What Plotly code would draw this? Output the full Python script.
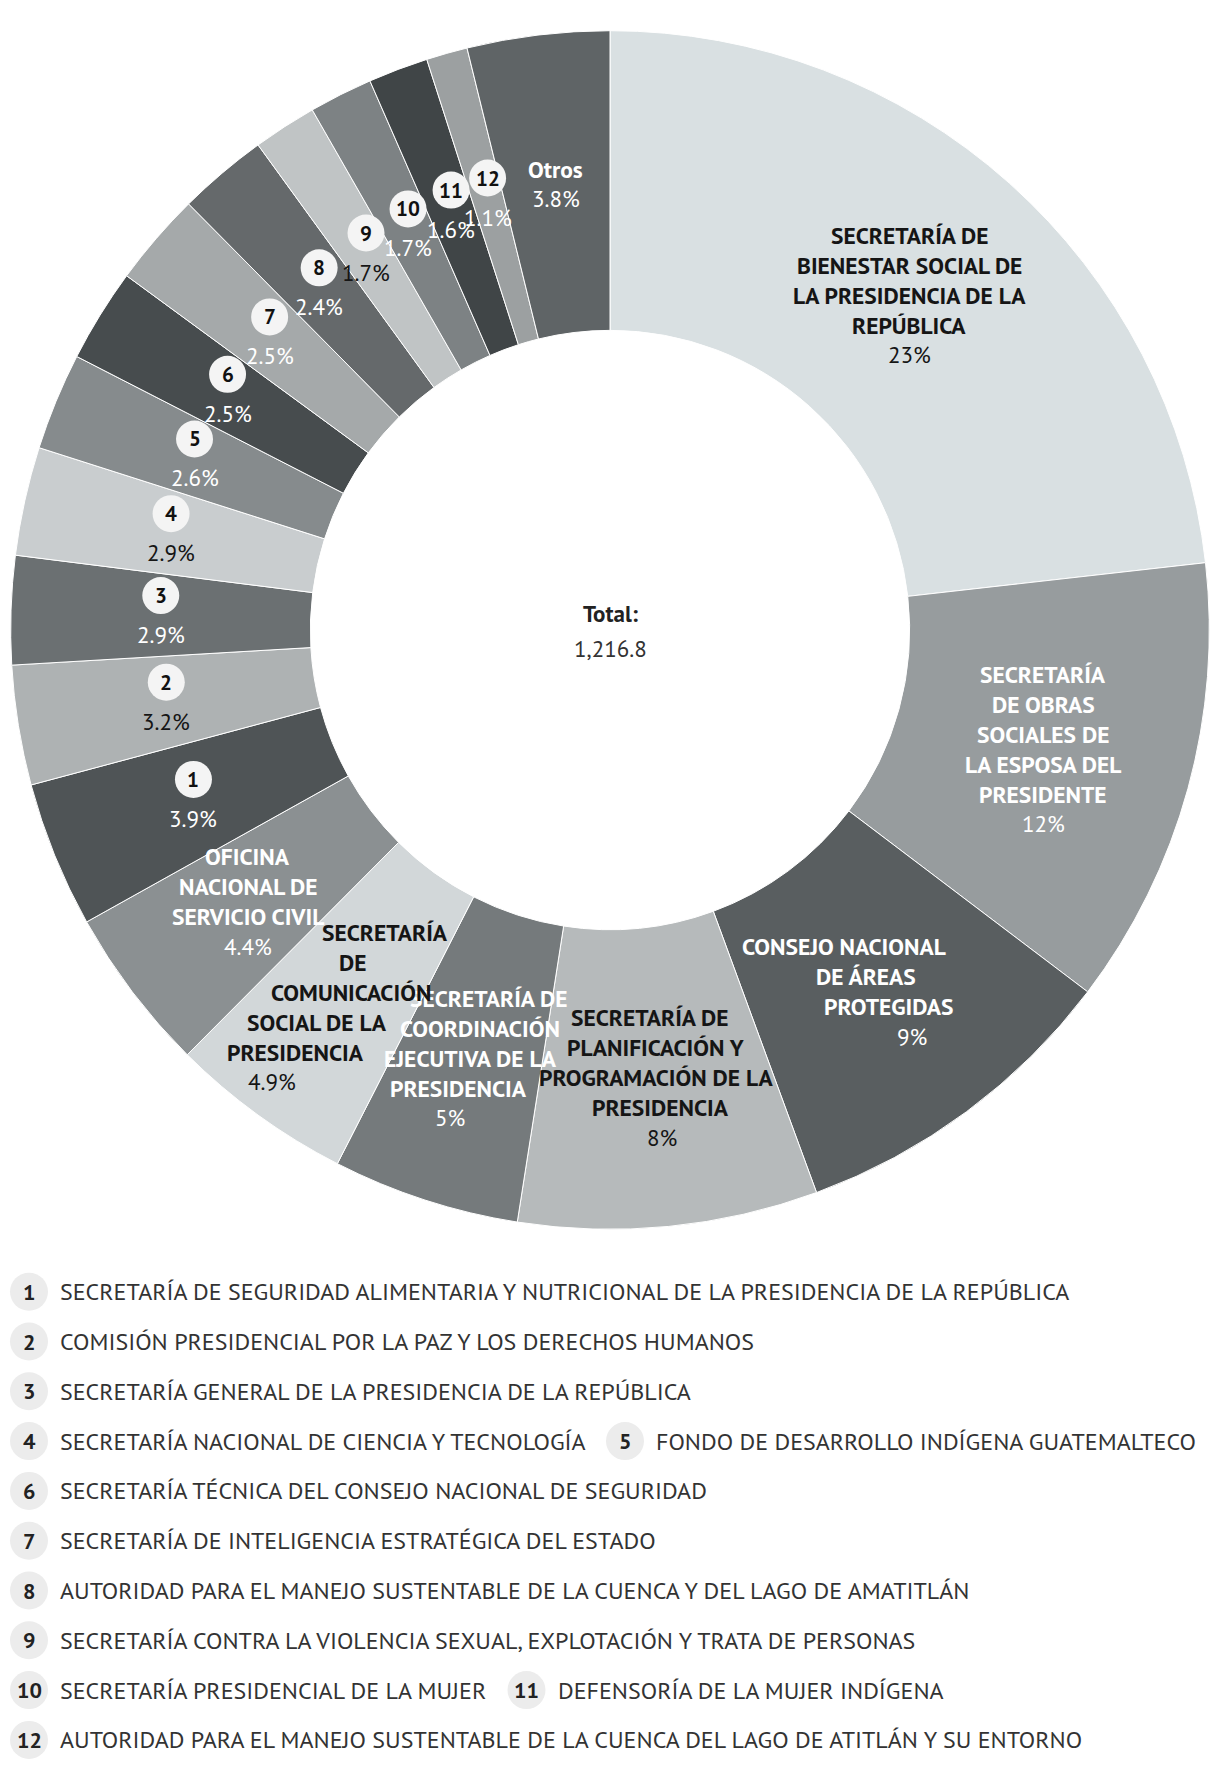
import math
import plotly.graph_objects as go

# ---------------- data ----------------
slice_names = [
    "SECRETARÍA DE BIENESTAR SOCIAL DE LA PRESIDENCIA DE LA REPÚBLICA",
    "SECRETARÍA DE OBRAS SOCIALES DE LA ESPOSA DEL PRESIDENTE",
    "CONSEJO NACIONAL DE ÁREAS PROTEGIDAS",
    "SECRETARÍA DE PLANIFICACIÓN Y PROGRAMACIÓN DE LA PRESIDENCIA",
    "SECRETARÍA DE COORDINACIÓN EJECUTIVA DE LA PRESIDENCIA",
    "SECRETARÍA DE COMUNICACIÓN SOCIAL DE LA PRESIDENCIA",
    "OFICINA NACIONAL DE SERVICIO CIVIL",
    "SECRETARÍA DE SEGURIDAD ALIMENTARIA Y NUTRICIONAL DE LA PRESIDENCIA DE LA REPÚBLICA",
    "COMISIÓN PRESIDENCIAL POR LA PAZ Y LOS DERECHOS HUMANOS",
    "SECRETARÍA GENERAL DE LA PRESIDENCIA DE LA REPÚBLICA",
    "SECRETARÍA NACIONAL DE CIENCIA Y TECNOLOGÍA",
    "FONDO DE DESARROLLO INDÍGENA GUATEMALTECO",
    "SECRETARÍA TÉCNICA DEL CONSEJO NACIONAL DE SEGURIDAD",
    "SECRETARÍA DE INTELIGENCIA ESTRATÉGICA DEL ESTADO",
    "AUTORIDAD PARA EL MANEJO SUSTENTABLE DE LA CUENCA Y DEL LAGO DE AMATITLÁN",
    "SECRETARÍA CONTRA LA VIOLENCIA SEXUAL, EXPLOTACIÓN Y TRATA DE PERSONAS",
    "SECRETARÍA PRESIDENCIAL DE LA MUJER",
    "DEFENSORÍA DE LA MUJER INDÍGENA",
    "AUTORIDAD PARA EL MANEJO SUSTENTABLE DE LA CUENCA DEL LAGO DE ATITLÁN Y SU ENTORNO",
    "Otros",
]
slice_pct = [23, 12, 9, 8, 5, 4.9, 4.4, 3.9, 3.2, 2.9, 2.9, 2.6, 2.5, 2.5, 2.4, 1.7, 1.7, 1.6, 1.1, 3.8]
pct_text = ["23%", "12%", "9%", "8%", "5%", "4.9%", "4.4%", "3.9%", "3.2%", "2.9%", "2.9%",
            "2.6%", "2.5%", "2.5%", "2.4%", "1.7%", "1.7%", "1.6%", "1.1%", "3.8%"]
slice_tags = ["", "", "", "", "", "", "", "1", "2", "3", "4", "5", "6", "7", "8", "9", "10", "11", "12", ""]
label_lines = {
    0: ["SECRETARÍA DE", "BIENESTAR SOCIAL DE", "LA PRESIDENCIA DE LA", "REPÚBLICA"],
    1: ["SECRETARÍA", "DE OBRAS", "SOCIALES DE", "LA ESPOSA DEL", "PRESIDENTE"],
    2: ["CONSEJO NACIONAL", "DE ÁREAS", "PROTEGIDAS"],
    3: ["SECRETARÍA DE", "PLANIFICACIÓN Y", "PROGRAMACIÓN DE LA", "PRESIDENCIA"],
    4: ["SECRETARÍA DE", "COORDINACIÓN", "EJECUTIVA DE LA", "PRESIDENCIA"],
    5: ["SECRETARÍA", "DE", "COMUNICACIÓN", "SOCIAL DE LA", "PRESIDENCIA"],
    6: ["OFICINA", "NACIONAL DE", "SERVICIO CIVIL"],
    19: ["Otros"],
}
total_title = "Total:"
total_value = "1,216.8"
legend_rows = [[7], [8], [9], [10, 11], [12], [13], [14], [15], [16, 17], [18]]

# ---------------- style ----------------
OFF = 8                      # page body margin of the browser
W, H = 1220 - OFF, 1770 - OFF
CX, CY, R = 610.0, 630.0, 599.3
HOLE = 0.5
LABEL_R = 0.75 * R
LINE_H = 30
FONT = "'PT Sans', 'Open Sans', sans-serif"
BOLD_SIZE = 23.5
PCT_SIZE = 23
NUM_SIZE = 21
LEG_SIZE = 24
TOTAL_SIZE = 23
DARK = "#151515"

slice_colors = ["#d9e0e2", "#979c9e", "#595e60", "#b6babb", "#757a7c", "#d2d7d9", "#8b9092",
                "#4f5456", "#aeb2b3", "#6b7072", "#c9cdcf", "#868b8d", "#474c4e", "#a5a9aa",
                "#65696b", "#c0c4c5", "#7d8284", "#404547", "#9ca0a1", "#5f6466"]
label_dark = [True, False, False, True, False, True, False, False, True, False, True,
              False, False, False, False, True, False, False, False, False]
# per-line horizontal offsets (px) of the label lines, as laid out in the original
line_dx = {
    2: [-33, -11, 12, 35],
    3: [-5, 1, 2, 6, 8],
    4: [17.5, 8.5, -0.5, -12.5, -21.5],
    5: [39, 6, 5, -29, -51, -74],
    6: [-4, -4, -4, -4],
}
line_dy = {5: 13}
legend_second_x = {11: 625, 17: 526.5}
LEG_Y0, LEG_DY = 1291.7, 49.8


def px(x):
    return (x - OFF) / W


def py(y):
    return 1 - (y - OFF) / H


fig = go.Figure()
fig.add_trace(go.Pie(
    values=slice_pct, labels=slice_names, sort=False, direction="clockwise", rotation=0,
    hole=HOLE, textinfo="none", hoverinfo="label+percent", showlegend=False,
    marker=dict(colors=slice_colors, line=dict(color="white", width=1)),
    domain=dict(x=[px(CX - R), px(CX + R)], y=[py(CY + R), py(CY - R)]),
))

annotations = []
shapes = []


def add_text(x, y, text, size, color, bold=False, xanchor="center"):
    annotations.append(dict(
        x=px(x), y=py(y), xref="paper", yref="paper", text=text, showarrow=False,
        xanchor=xanchor, yanchor="middle",
        font=dict(family=FONT, size=size, color=color, weight="bold" if bold else "normal"),
    ))


def add_circle(x, y, r, fill):
    shapes.append(dict(type="circle", xref="paper", yref="paper",
                       x0=px(x - r), x1=px(x + r), y0=py(y + r), y1=py(y - r),
                       fillcolor=fill, line=dict(width=0), layer="above"))


total = sum(slice_pct)
cum = 0.0
for i, v in enumerate(slice_pct):
    mid = (cum + v / 2) / total * 360.0
    cum += v
    th = math.radians(90.0 - mid)
    x = CX + LABEL_R * math.cos(th)
    y = CY - LABEL_R * math.sin(th)
    col = DARK if label_dark[i] else "#ffffff"
    if i in label_lines:
        lines = label_lines[i] + [pct_text[i]]
        n = len(lines)
        dxs = line_dx.get(i, [0] * n)
        dy = line_dy.get(i, 0)
        for j, ln in enumerate(lines):
            ly = y + dy + (j - (n - 1) / 2) * LINE_H
            is_pct = j == n - 1
            add_text(x + dxs[j], ly, ln, PCT_SIZE if is_pct else BOLD_SIZE, col, bold=not is_pct)
    else:
        add_circle(x, y - 19.5, 18.5, "#f4f4f4")
        add_text(x, y - 19.5, slice_tags[i], NUM_SIZE, "#111111", bold=True)
        add_text(x, y + 19.5, pct_text[i], PCT_SIZE, col)

# centre total
add_text(CX, 614, total_title, TOTAL_SIZE, "#222222", bold=True)
add_text(CX, 648, total_value, TOTAL_SIZE, "#333333")

# legend
for r_i, row in enumerate(legend_rows):
    ly = LEG_Y0 + r_i * LEG_DY
    for k, idx in enumerate(row):
        cx = 29 if k == 0 else legend_second_x[idx]
        add_circle(cx, ly, 19, "#ececec")
        add_text(cx, ly, slice_tags[idx], NUM_SIZE + 1, "#222222", bold=True)
        add_text(cx + 29, ly, slice_names[idx], LEG_SIZE, "#333333", xanchor="left")

fig.update_layout(
    width=W, height=H, autosize=False,
    margin=dict(l=0, r=0, t=0, b=0, pad=0),
    paper_bgcolor="white", plot_bgcolor="white",
    annotations=annotations, shapes=shapes,
)
fig.write_html("out.html")
